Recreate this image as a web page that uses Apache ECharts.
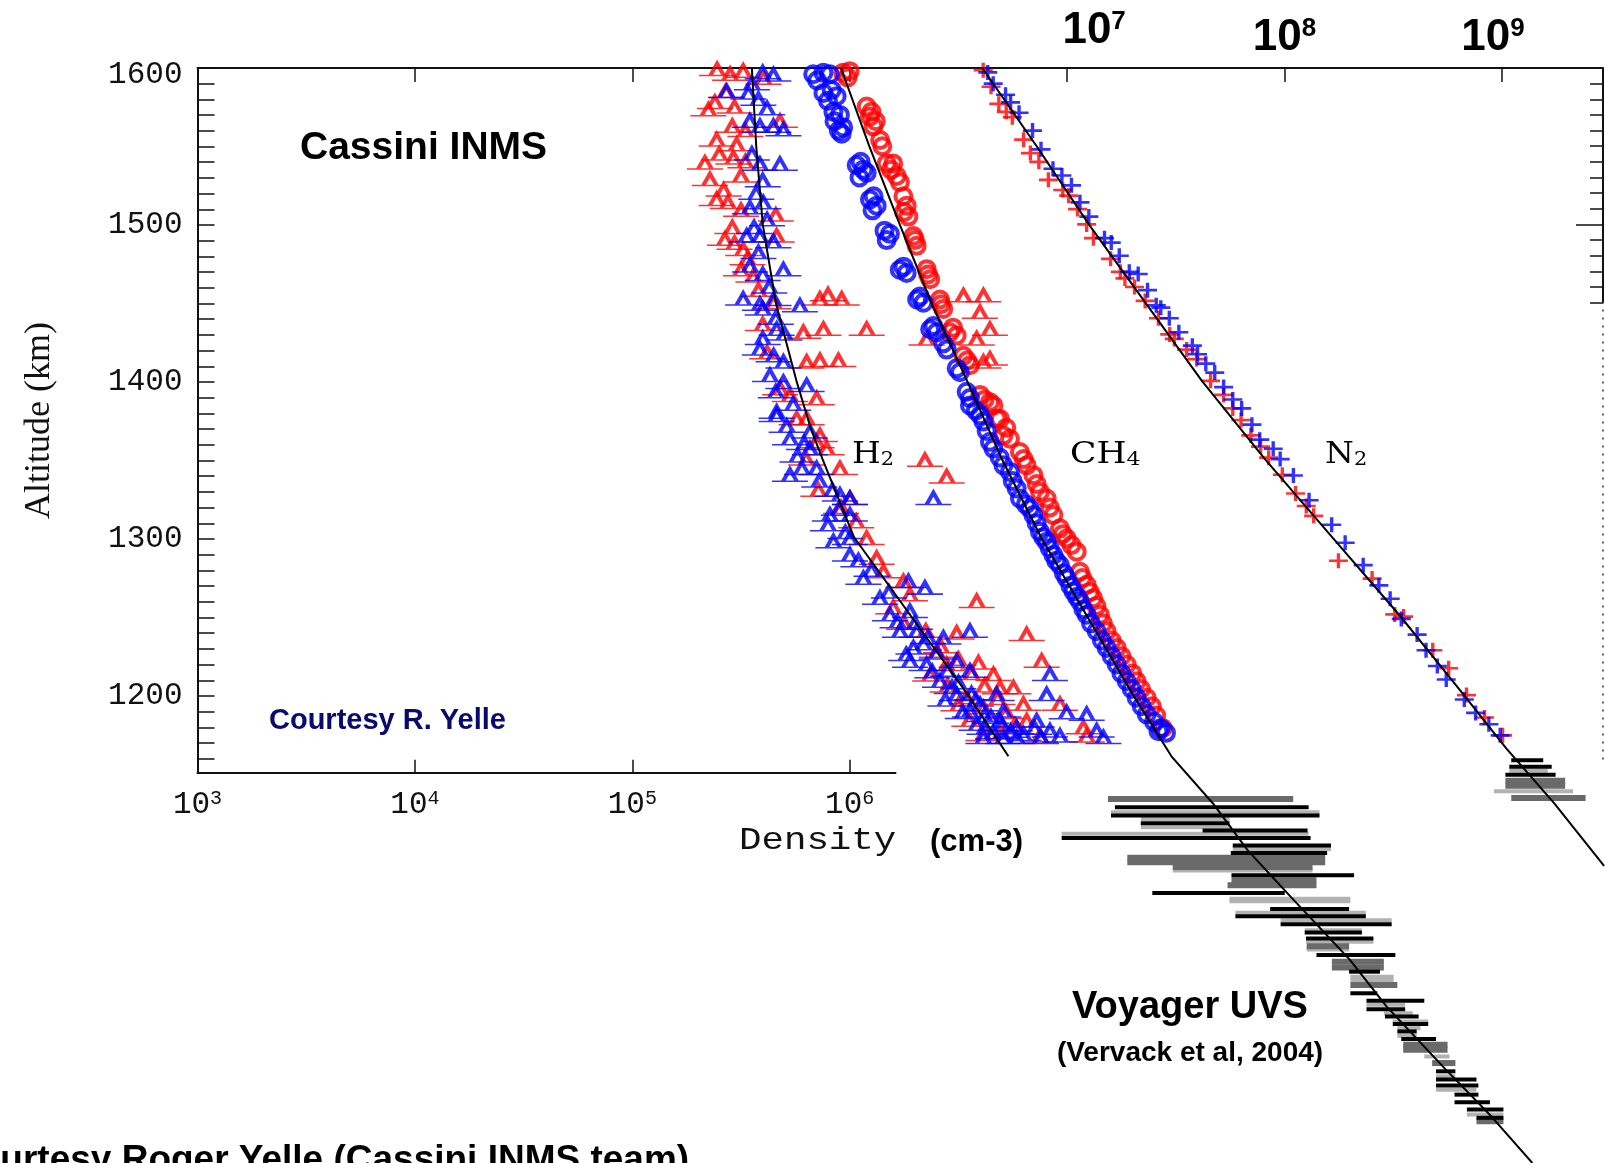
<!DOCTYPE html>
<html><head><meta charset="utf-8">
<script src="https://cdn.jsdelivr.net/npm/echarts@6/dist/echarts.min.js"></script>
<style>html,body{margin:0;padding:0;background:#fff;overflow:hidden}#c{width:1605px;height:1163px}</style>
</head><body><div id="c"></div>
<script>
// ---------- axis ticks (x axis is log10 of density, cm^-3) ----------
const xBottomTicks = [3, 4, 5, 6];
const xTopTicks = [4, 5, 6, 7, 8, 9];
const xTopLabels = [7, 8, 9];
const yTickLabels = [1200, 1300, 1400, 1500, 1600];
const yMinorTicks = [1160,1170,1180,1190,1200,1210,1220,1230,1240,1250,1260,1270,1280,1290,1300,1310,1320,1330,1340,1350,1360,1370,1380,1390,1400,1410,1420,1430,1440,1450,1460,1470,1480,1490,1500,1510,1520,1530,1540,1550,1560,1570,1580,1590,1600];
const yRightMinorTicks = [1450,1460,1470,1480,1490,1510,1520,1530,1540,1550,1560,1570,1580,1590];
const yRightMajorTicks = [1500];

// ---------- fitted profiles: altitude (km) and log10 density ----------
const h2FitAlt  = [1600,1550,1500,1450,1400,1370,1350,1300,1250,1200,1160];
const h2FitLogN = [5.55,5.57,5.60,5.66,5.755,5.82,5.875,6.02,6.28,6.54,6.73];
const ch4FitAlt  = [1600,1550,1500,1450,1400,1350,1300,1250,1200,1160,1130,1100,1070,1030,1000,960,930,900];
const ch4FitLogN = [5.96,6.09,6.23,6.375,6.54,6.70,6.88,7.09,7.30,7.48,7.67,7.83,8.03,8.30,8.47,8.74,8.95,9.14];
const n2FitAlt  = [1600,1550,1500,1450,1400,1350,1300,1250,1200,1165,1130,1090];
const n2FitLogN = [6.61,6.86,7.10,7.36,7.62,7.91,8.22,8.53,8.82,9.02,9.24,9.47];

// ---------- Cassini INMS points: [log10 density, altitude km] ----------
const h2Red = [[5.39,1599],[5.51,1598],[5.603,1593.5],[5.45,1596],[5.35,1573.3],[5.47,1575],[5.38,1578],
[5.679,1565.9],[5.46,1562.7],[5.52,1560],[5.388,1554],[5.48,1551],[5.334,1539.3],[5.465,1542.5],[5.52,1540],
[5.357,1528.7],[5.50,1531],[5.388,1516],[5.44,1514],[5.66,1506],[5.50,1509],[5.426,1490.5],[5.664,1492.6],
[5.51,1484],[5.47,1488],[5.557,1467],[5.50,1471],[5.863,1452.3],[5.963,1452.3],[5.90,1455],[5.65,1450],
[5.787,1431],[5.879,1433],[6.078,1433],[5.60,1436],[5.802,1412],[5.863,1413],[5.948,1413],[5.62,1418],
[5.725,1390.7],[5.848,1388.6],[5.68,1395],[5.756,1375.8],[5.848,1361],[5.802,1375.8],[5.863,1365],
[5.894,1356.6],[5.955,1344],[5.80,1350],[6.346,1349.2],[6.446,1338.6],[5.856,1330.1],[6.001,1324.8],
[5.96,1319],[6.078,1299.3],[6.03,1310],[6.124,1286.6],[6.155,1278],[6.247,1271.7],[6.277,1263.2],
[6.584,1259],[6.20,1255],[6.25,1245],[6.492,1238.8],[6.814,1237.8],[6.40,1227.1],[6.446,1218.7],
[6.592,1219.7],[6.883,1220.8],[6.661,1212.3],[6.37,1212],[6.538,1197.4],[6.691,1203.8],[6.753,1203.8],
[6.45,1205],[6.615,1191],[6.799,1193.2],[6.967,1193.2],[6.50,1193],[6.615,1174],[6.814,1182.6],
[7.075,1178.3],[6.875,1173],[7.09,1173],[6.55,1183],
[6.35,1240],[6.42,1230],[6.50,1222],[6.56,1213],[6.62,1205],[6.68,1197],[6.72,1188],[6.76,1180],[6.70,1175],
[5.43,1585],[5.40,1545],[5.42,1522],[5.46,1498],[5.53,1478],[5.58,1458],
[6.523,1454.4],[6.615,1454.4],[6.599,1443.8],[6.354,1426.8],[6.584,1426.8],[6.645,1433],[6.615,1412],[6.645,1414]];
const h2Blue = [[5.649,1595.6],[5.60,1597],[5.55,1590],[5.434,1585],[5.534,1584],[5.58,1580],
[5.587,1562.7],[5.649,1562.7],[5.695,1560.5],[5.54,1566],[5.587,1538.5],[5.679,1538.5],[5.55,1545],
[5.541,1510.6],[5.603,1513.8],[5.57,1520],[5.62,1503],[5.526,1492.6],[5.587,1492.6],[5.649,1489],[5.56,1498],
[5.541,1473.5],[5.695,1471],[5.60,1468],[5.51,1452.3],[5.587,1449],[5.771,1448],[5.60,1446],[5.65,1452],
[5.664,1433],[5.60,1427],[5.70,1430],[5.587,1420.4],[5.695,1412],[5.65,1416],[5.633,1403.4],[5.695,1399],
[5.802,1397],[5.66,1393],[5.664,1380],[5.817,1367.3],[5.725,1363],[5.664,1377.9],[5.71,1371],
[5.817,1356.6],[5.79,1360],[5.725,1339.7],[5.848,1344],[5.78,1344],[6.385,1324.8],[5.955,1327],
[6.001,1324.8],[5.92,1330],[5.909,1314.2],[6.001,1314.2],[5.95,1318],[5.925,1297.2],[6.001,1299.3],
[5.98,1303],[6.001,1288.7],[6.04,1285],[6.063,1273.8],[6.27,1271.7],[6.346,1267.5],[6.10,1279],
[6.139,1261],[6.18,1265],[6.185,1250.5],[6.277,1252.6],[6.22,1246],[6.231,1239.9],[6.308,1239.9],
[6.553,1239.9],[6.431,1235.6],[6.293,1229.3],[6.34,1232],[6.26,1225],[6.277,1220.8],[6.354,1218.7],
[6.492,1220.8],[6.38,1214],[6.415,1208],[6.553,1214.4],[6.921,1212.3],[6.47,1204],[6.492,1199.5],
[6.676,1199.5],[6.906,1199.5],[6.58,1196],[6.553,1188.9],[6.707,1188.9],[6.998,1187.9],[7.09,1186.8],
[6.62,1186],[6.584,1180.4],[6.691,1182.6],[6.768,1178.3],[6.86,1182.6],[6.921,1176.2],[7.136,1176.2],
[6.615,1172],[6.707,1172],[6.768,1172],[6.967,1173],[7.167,1172],[6.66,1175],
[6.30,1245],[6.36,1236],[6.40,1226],[6.45,1215],[6.50,1207],[6.56,1200],[6.60,1193],[6.65,1185],
[6.70,1180],[6.74,1176],[6.80,1174],[6.85,1178],[6.88,1172],[6.62,1178],[6.52,1188],[6.44,1196],
[5.62,1574],[5.60,1528],[5.58,1482],[5.63,1460],[5.66,1440],[5.74,1385],[5.76,1352],[5.86,1336],[5.90,1308]];
const ch4Red = [[5.97,1597],[6.00,1598],[5.99,1594],[6.078,1575.4],[6.093,1569],[6.109,1562.7],[6.10,1572],
[6.12,1566],[6.14,1554],[6.15,1550],[6.17,1539],[6.20,1539],[6.216,1531],[6.231,1527],[6.19,1535],
[6.247,1518],[6.262,1512],[6.27,1505],[6.25,1508],[6.293,1492.6],[6.308,1486.3],[6.30,1490],
[6.354,1471.4],[6.37,1465],[6.36,1468],[6.415,1452],[6.43,1446],[6.42,1449],[6.461,1431],[6.492,1429],
[6.475,1434],[6.523,1416],[6.553,1410],[6.54,1413],[6.60,1391],[6.645,1386.4],[6.62,1388],
[6.661,1384.3],[6.676,1376],[6.691,1375.8],[6.707,1365],[6.737,1363],[6.783,1354.5],[6.814,1346],
[6.845,1339.7],[6.875,1329],[6.906,1324.8],[6.937,1314.2],[6.967,1305.7],[6.998,1299.3],[7.044,1290.8],
[7.059,1278],[7.09,1269.6],[7.12,1261],[7.151,1250.5],[7.182,1239.9],[7.228,1229.3],[7.274,1218.7],
[7.32,1208],[7.366,1197.4],[7.41,1186],[7.44,1178],
[6.72,1370],[6.80,1350],[6.86,1334],[6.92,1319],[6.98,1302],[7.02,1295],[7.07,1274],[7.105,1265],
[7.135,1256],[7.165,1245],[7.205,1234],[7.25,1224],[7.30,1213],[7.34,1203],[7.39,1192]];
const ch4Blue = [[5.832,1596],[5.879,1597],[5.909,1596],[5.85,1592],[5.879,1584],[5.917,1586],[5.94,1582],
[5.90,1579],[5.925,1572],[5.955,1570],[5.93,1566],[5.97,1562],[5.963,1558],[5.95,1560],[6.032,1538],
[6.063,1535],[6.078,1533],[6.05,1540],[6.045,1530],[6.093,1516],[6.124,1512],[6.11,1518],[6.105,1509],
[6.185,1494],[6.17,1490],[6.16,1496],[6.247,1473],[6.262,1469],[6.23,1471],[6.323,1454],[6.339,1450],
[6.31,1452],[6.385,1435],[6.40,1431],[6.37,1433],[6.43,1424],[6.446,1420],[6.492,1408],[6.507,1405.5],
[6.538,1393],[6.553,1389],[6.60,1378],[6.615,1374],[6.553,1384.3],[6.645,1361],[6.661,1356.7],
[6.707,1346],[6.737,1341.8],[6.768,1331.2],[6.783,1324.8],[6.829,1318.4],[6.845,1314.2],[6.875,1303.6],
[6.906,1297.2],[6.937,1288.7],[6.967,1282.3],[6.998,1273.8],[7.029,1265.4],[7.059,1259],[7.09,1250.5],
[7.11,1245],[7.136,1239.9],[7.16,1234],[7.182,1229.3],[7.205,1224],[7.228,1218.7],[7.25,1213],
[7.274,1208],[7.297,1203],[7.32,1197.4],[7.343,1192],[7.366,1186.8],[7.40,1182],[7.43,1178],[7.455,1175],
[6.58,1381],[6.63,1368],[6.69,1351],[6.75,1336],[6.81,1321],[6.86,1309],[6.89,1300],[6.92,1293],
[6.95,1285],[6.985,1277],[7.015,1269],[7.045,1262],[7.075,1254],[7.42,1176]];
const n2Red = [[6.614,1598.6],[6.65,1588],[6.686,1577.1],[6.72,1572],[6.748,1568.5],[6.80,1554.2],[6.831,1545.6],
[6.87,1540],[6.914,1528.5],[6.98,1522],[7.007,1518.4],[7.048,1509.8],[7.09,1500],[7.121,1491.2],[7.20,1478],
[7.245,1469.7],[7.266,1465.5],[7.31,1460],[7.359,1451.1],[7.42,1440],[7.472,1429.7],[7.493,1426.8],
[7.55,1420],[7.596,1413.9],[7.66,1400],[7.72,1391],[7.762,1382.4],[7.80,1375],[7.845,1365.2],[7.89,1358],
[7.927,1350.9],[7.99,1340],[8.051,1328],[8.10,1320],[8.134,1313.7],[8.248,1285],[8.403,1273.6],
[8.507,1250.7],[8.548,1249.3],[8.682,1227.8],[8.755,1216.3],[8.837,1199.1],[8.92,1184.8],[9.003,1173.4]];
const n2Blue = [[6.635,1597.2],[6.66,1590],[6.717,1582.9],[6.74,1578],[6.779,1571.4],[6.841,1560],[6.88,1548],
[6.935,1535.6],[6.976,1531.3],[7.02,1525],[7.059,1514.1],[7.10,1505],[7.172,1491.2],[7.203,1488.4],
[7.24,1480],[7.286,1469.7],[7.327,1468.3],[7.37,1458],[7.41,1448.3],[7.431,1446.8],[7.47,1440],
[7.514,1431.1],[7.576,1422.5],[7.60,1417],[7.638,1411],[7.679,1405.3],[7.72,1396],[7.762,1388.1],
[7.803,1382.4],[7.85,1372],[7.886,1362.4],[7.948,1356.6],[7.98,1350],[8.041,1339.5],[8.113,1323.7],
[8.217,1308],[8.279,1296.5],[8.362,1282.2],[8.434,1269.3],[8.486,1260.7],[8.537,1247.8],[8.61,1237.8],
[8.651,1227.8],[8.703,1217.7],[8.744,1209.1],[8.827,1196.3],[8.879,1187.7],[8.94,1180.5],[8.992,1173.4]];

// ---------- Voyager UVS error bars: [log10 low, log10 high, altitude km, shade 0=black 1=dark grey 2=light grey] ----------
const voyagerCH4 = [[7.188,8.04,1132.7,1],[7.22,8.111,1127.4,0],[7.202,8.161,1124.2,2],[7.202,8.161,1122.1,0],
[7.339,7.747,1119.9,2],[7.339,7.747,1117.2,0],[7.339,7.756,1114.6,2],[7.623,8.106,1112.5,0],[6.975,8.111,1110.4,2],
[6.975,8.12,1107.8,0],[7.762,8.214,1103.0,0],[7.762,8.214,1100.8,2],[7.753,8.196,1098.1,0],[7.277,8.187,1095.1,1],
[7.277,8.187,1092.3,1],[7.486,8.129,1089.2,1],[7.486,8.129,1087.0,2],[7.756,8.32,1083.9,0],[7.756,8.147,1080.7,1],
[7.738,8.147,1077.5,1],[7.392,8.001,1072.6,0],[7.747,8.303,1069.0,2],[7.747,8.303,1067.3,2],[7.934,8.297,1062.4,0],
[7.774,8.374,1059.9,2],[7.774,8.374,1057.7,0],[7.982,8.493,1055.2,2],[7.982,8.493,1052.6,0],[8.093,8.356,1048.8,2],
[8.093,8.356,1047.3,0],[8.099,8.409,1043.5,0],[8.099,8.409,1041.4,2],[8.102,8.297,1038.6,1],[8.102,8.297,1036.5,2],
[8.147,8.51,1032.9,0],[8.218,8.457,1028.6,1],[8.218,8.457,1025.0,1],[8.297,8.439,1022.3,0],[8.303,8.502,1019.1,2],
[8.303,8.502,1017.0,2],[8.303,8.519,1013.8,1],[8.303,8.427,1008.5,0],[8.377,8.643,1003.8,0],[8.377,8.555,1001.1,2],
[8.377,8.555,998.3,0],[8.457,8.59,995.7,2],[8.462,8.617,993.6,0],[8.498,8.661,990.4,2],[8.498,8.661,988.9,0],
[8.519,8.626,986.2,2],[8.519,8.608,984.1,0],[8.519,8.608,981.3,2],[8.537,8.697,979.2,0],[8.546,8.75,975.6,1],
[8.546,8.75,972.4,1],[8.643,8.759,968.1,2],[8.679,8.786,963.9,1],[8.697,8.786,958.6,0],[8.697,8.786,955.4,2],
[8.697,8.883,953.3,0],[8.697,8.892,949.5,0],[8.697,8.883,946.9,2],[8.782,8.892,943.7,0],[8.782,8.945,938.9,0],
[8.839,9.007,934.2,0],[8.839,9.007,931.0,2],[8.883,9.007,928.9,0],[8.883,9.007,926.7,1]];
const voyagerN2 = [[9.043,9.19,1157.5,0],[9.034,9.229,1153.3,0],[9.034,9.211,1150.7,2],[9.016,9.247,1148.2,0],
[9.016,9.291,1144.4,1],[9.016,9.291,1141.2,1],[8.963,9.327,1137.6,2],[9.043,9.385,1133.3,1]];

// right frame edge (data units)
const X_MAX = 9.465;
const rightEdgeSolid = [[X_MAX,1450],[X_MAX,1600]];
const rightEdgeDotted = [[X_MAX,1158],[X_MAX,1450]];

const RED = '#ff0000', BLUE = '#0000ff', AX = '#111111';
const zip = (a, n) => a.map((alt, i) => [n[i], alt]);
const plusSym = 'path://M0,6L14,6M7,0L7,12';
const triSym = 'path://M0,9L32,9M10,9L16,0L22,9';
const shadeCol = ['#000000', '#6a6a6a', '#b2b2b2'];
const shadeH = [4, 6, 4];

function scatter(name, data, sym, size, color, bw) {
  return {name, type:'scatter', xAxisIndex:1, yAxisIndex:1, data, symbol:sym, symbolSize:size, z:3,
    itemStyle:{color:'transparent', borderColor:color, borderWidth:bw}, silent:true};
}
function fit(name, data) {
  return {name, type:'line', xAxisIndex:1, yAxisIndex:1, data, symbol:'none', z:6, silent:true,
    lineStyle:{color:'#000', width:2}};
}
function bars(name, data) {
  return {name, type:'custom', xAxisIndex:1, yAxisIndex:1, data, z:2, silent:true,
    encode:{x:[0,1], y:2},
    renderItem(params, api) {
      const lo = api.value(0), hi = api.value(1), alt = api.value(2), s = api.value(3);
      const p1 = api.coord([lo, alt]), p2 = api.coord([hi, alt]);
      const h = shadeH[s];
      return {type:'rect', z2: s === 0 ? 3 : (s === 1 ? 2 : 1),
        shape:{x:p1[0], y:p1[1]-h/2, width:p2[0]-p1[0], height:h}, style:{fill:shadeCol[s]}};
    }};
}

const monoRich = {
  b:{fontFamily:'Liberation Mono', fontSize:31, color:AX},
  s:{fontFamily:'Liberation Mono', fontSize:20, color:AX, verticalAlign:'top'}
};
const topRich = {
  b:{fontFamily:'Liberation Sans', fontWeight:'bold', fontSize:44, color:'#000'},
  b7:{fontFamily:'Liberation Sans', fontWeight:'bold', fontSize:44, color:'#000', padding:[0,0,7,54]},
  s:{fontFamily:'Liberation Sans', fontWeight:'bold', fontSize:26, color:'#000', verticalAlign:'top'},
  s9:{fontFamily:'Liberation Sans', fontWeight:'bold', fontSize:26, color:'#000', verticalAlign:'top', padding:[0,18,0,0]}
};

const option = {
  animation:false,
  backgroundColor:'#ffffff',
  grid:[
    {left:197.5, top:68, width:698, height:704.8},
    {left:197.5, top:68, width:1405.5, height:1099}
  ],
  xAxis:[
    {gridIndex:0, type:'value', min:3, max:6.2107, position:'bottom',
      axisLine:{show:true, onZero:false, lineStyle:{color:AX, width:2}},
      axisTick:{show:true, inside:true, length:13, customValues:xBottomTicks, lineStyle:{color:AX, width:1.5}},
      axisLabel:{show:true, customValues:xBottomTicks, margin:16, formatter:v => '{b|10}{s|' + v + '}', rich:monoRich},
      splitLine:{show:false}},
    {gridIndex:1, type:'value', min:3, max:X_MAX, position:'top',
      axisLine:{show:true, onZero:false, lineStyle:{color:AX, width:2}},
      axisTick:{show:true, inside:true, length:14, customValues:xTopTicks, lineStyle:{color:AX, width:1.5}},
      axisLabel:{show:true, customValues:xTopLabels, margin:8,
        formatter:v => v === 7 ? '{b7|10}{s|7}' : (v === 9 ? '{b|10}{s9|9}' : '{b|10}{s|' + v + '}'), rich:topRich},
      splitLine:{show:false}}
  ],
  yAxis:[
    {gridIndex:0, type:'value', min:1151.1, max:1600, position:'left',
      name:'Altitude (km)', nameLocation:'middle', nameGap:140, nameRotate:90,
      nameTextStyle:{fontFamily:'Liberation Serif', fontSize:36, color:AX},
      axisLine:{show:true, onZero:false, lineStyle:{color:AX, width:2}},
      axisTick:{show:true, inside:true, length:17, customValues:yMinorTicks, lineStyle:{color:AX, width:1.5}},
      axisLabel:{show:true, customValues:yTickLabels, margin:15,
        formatter:v => v === 1600 ? '{t|1600}' : '{n|' + v + '}',
        rich:{n:{fontFamily:'Liberation Mono', fontSize:31, color:AX},
              t:{fontFamily:'Liberation Mono', fontSize:31, color:AX, padding:[13,0,0,0]}}},
      splitLine:{show:false}},
    {gridIndex:1, type:'value', min:900, max:1600, position:'right',
      axisLine:{show:false},
      axisTick:{show:true, inside:true, length:13, customValues:yRightMinorTicks, lineStyle:{color:AX, width:1.5}},
      axisLabel:{show:false}, splitLine:{show:false}},
    {gridIndex:1, type:'value', min:900, max:1600, position:'right',
      axisLine:{show:false},
      axisTick:{show:true, inside:true, length:27, customValues:yRightMajorTicks, lineStyle:{color:AX, width:1.5}},
      axisLabel:{show:false}, splitLine:{show:false}}
  ],
  series:[
    bars('Voyager UVS CH4', voyagerCH4),
    bars('Voyager UVS N2', voyagerN2),
    scatter('H2 red', h2Red, triSym, [36,12], RED, 2.6),
    scatter('H2 blue', h2Blue, triSym, [36,12], BLUE, 2.6),
    scatter('CH4 red', ch4Red, 'circle', 16, RED, 4),
    scatter('CH4 blue', ch4Blue, 'circle', 16, BLUE, 4),
    scatter('N2 red', n2Red, plusSym, [19,15], RED, 3),
    scatter('N2 blue', n2Blue, plusSym, [19,15], BLUE, 3),
    fit('H2 fit', zip(h2FitAlt, h2FitLogN)),
    fit('CH4 fit', zip(ch4FitAlt, ch4FitLogN)),
    fit('N2 fit', zip(n2FitAlt, n2FitLogN)),
    {type:'line', xAxisIndex:1, yAxisIndex:1, data:rightEdgeSolid, symbol:'none', clip:false, z:7, silent:true,
      lineStyle:{color:AX, width:2}},
    {type:'line', xAxisIndex:1, yAxisIndex:1, data:rightEdgeDotted, symbol:'none', clip:false, z:7, silent:true,
      lineStyle:{color:'#333', width:1.5, type:[2,6]}}
  ],
  graphic:[
    {type:'text', x:300, y:148, style:{text:'Cassini INMS', fontFamily:'Liberation Sans', fontWeight:'bold', fontSize:39, fill:'#000', verticalAlign:'middle'}},
    {type:'text', x:269, y:721, style:{text:'Courtesy R. Yelle', fontFamily:'Liberation Sans', fontWeight:'bold', fontSize:29, fill:'#0a0a6e', verticalAlign:'middle'}},
    {type:'text', x:739, y:841, scaleX:1.17, style:{text:'Density', fontFamily:'Liberation Mono', fontSize:32, fill:AX, verticalAlign:'middle'}},
    {type:'text', x:930, y:842, style:{text:'(cm-3)', fontFamily:'Liberation Sans', fontWeight:'bold', fontSize:31, fill:'#000', verticalAlign:'middle'}},
    {type:'text', x:852, y:455, scaleX:1.1, style:{text:'{m|H}{s|2}', verticalAlign:'middle',
      rich:{m:{fontFamily:'DejaVu Serif', fontSize:30, color:'#111'}, s:{fontFamily:'DejaVu Serif', fontSize:19, color:'#111', verticalAlign:'bottom'}}}},
    {type:'text', x:1070, y:455, scaleX:1.15, style:{text:'{m|CH}{s|4}', verticalAlign:'middle',
      rich:{m:{fontFamily:'DejaVu Serif', fontSize:30, color:'#111'}, s:{fontFamily:'DejaVu Serif', fontSize:19, color:'#111', verticalAlign:'bottom'}}}},
    {type:'text', x:1325, y:455, scaleX:1.1, style:{text:'{m|N}{s|2}', verticalAlign:'middle',
      rich:{m:{fontFamily:'DejaVu Serif', fontSize:30, color:'#111'}, s:{fontFamily:'DejaVu Serif', fontSize:19, color:'#111', verticalAlign:'bottom'}}}},
    {type:'text', x:1190, y:1008, style:{text:'Voyager UVS', fontFamily:'Liberation Sans', fontWeight:'bold', fontSize:38, fill:'#000', align:'center', verticalAlign:'middle'}},
    {type:'text', x:1190, y:1053, style:{text:'(Vervack et al, 2004)', fontFamily:'Liberation Sans', fontWeight:'bold', fontSize:28, fill:'#000', align:'center', verticalAlign:'middle'}},
    {type:'text', x:-49, y:1161, style:{text:'Courtesy Roger Yelle (Cassini INMS team)', fontFamily:'Liberation Sans', fontWeight:'bold', fontSize:37, fill:'#000', verticalAlign:'middle'}}
  ]
};
const chart = echarts.init(document.getElementById('c'), null, {renderer:'canvas'});
chart.setOption(option);
</script>
</body></html>
